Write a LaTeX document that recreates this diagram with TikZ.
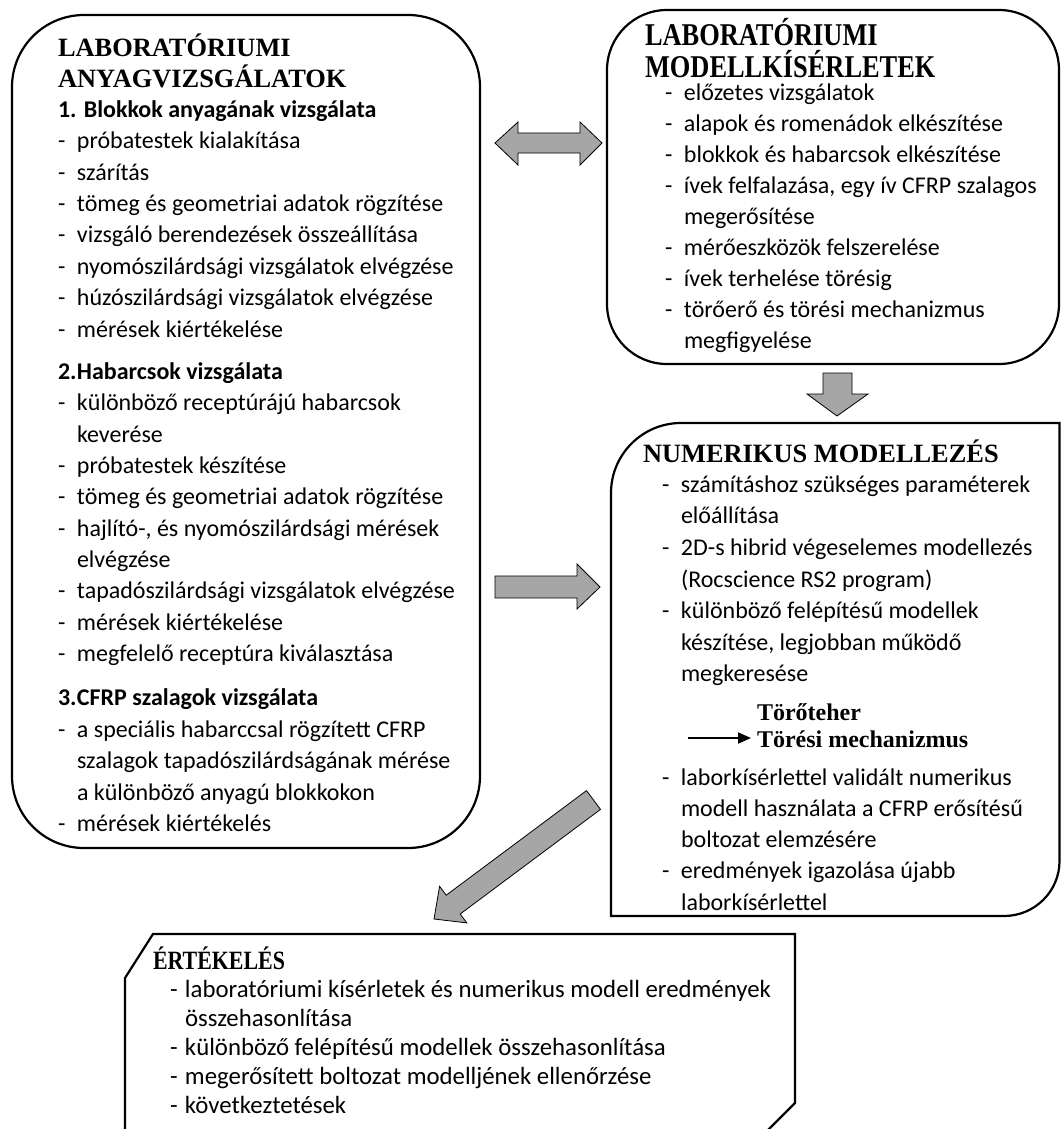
\documentclass[tikz,border=0pt]{standalone}
\usepackage{fontspec}
\usepackage{graphicx}
\setmainfont{Carlito}
\newfontfamily\hdfont{Liberation Serif}
\newfontfamily\hdcond{Liberation Serif}[FakeStretch=0.83]
\usetikzlibrary{arrows.meta}
\definecolor{arrowgray}{RGB}{166,166,166}
\newcommand\hd{\hdfont\bfseries\fontsize{26.4}{31}\selectfont}
\newcommand\bodyfont[1]{\fontsize{24}{#1}\selectfont}
\newcommand\myitem[1]{\makebox[19pt][l]{-}#1\par}
\newcommand\mycont[1]{\hspace*{19pt}#1\par}
\newcommand\eitem[1]{\makebox[15pt][l]{-}#1\par}
\newcommand\econt[1]{\hspace*{15pt}#1\par}
\newcommand\tallhd[1]{\scalebox{1}[1.2]{#1}}
\tikzset{
  boxline/.style={draw=black,line width=2.2pt},
  blockarrow/.style={draw=black,line width=0.8pt,fill=arrowgray,line join=miter},
  txt/.style={anchor=base west,inner sep=0pt,outer sep=0pt},
}
\begin{document}
\begin{tikzpicture}[x=1pt,y=-1pt]
\useasboundingbox (0,0) rectangle (1061,1129);
\fill[white] (0,0) rectangle (1061,1129);
\begin{scope}
\clip (0,0) rectangle (1061,1129);
% boxes
\draw[boxline,rounded corners=72pt] (12,15) rectangle (480,848);
\draw[boxline,rounded corners=60pt] (607,10) rectangle (1059,364);
\draw[boxline] (611,916) -- (611,493) .. controls (611,454.4) and (642.4,423) .. (681,423)
   -- (1059.5,423) -- (1059.5,861) .. controls (1059.5,891.4) and (1034.6,916) .. (1004,916) -- cycle;
\draw[boxline] (125,1135) -- (125,978) -- (153,934) -- (795,934) -- (795,1103) -- (763,1135);
\end{scope}

% block arrows
\draw[blockarrow] (495,143) -- (518,122) -- (518,133) -- (580,133) -- (580,122) -- (602,143)
   -- (580,165) -- (580,153) -- (518,153) -- (518,165) -- cycle;
\draw[blockarrow] (495,576) -- (577,576) -- (577,564) -- (600,587) -- (577,609) -- (577,598) -- (495,598) -- cycle;
\draw[blockarrow] (823,373) -- (852,373) -- (852,394) -- (868,394) -- (837,416) -- (807,394) -- (823,394) -- cycle;
\draw[blockarrow] (586.5,790.6) -- (600.5,809.4) -- (460.2,914.0) -- (466.8,922.9) -- (434,919)
   -- (439.6,886.3) -- (446.2,895.2) -- cycle;

% left box text
\node[txt] (labtext) at (58,57) {\begin{minipage}[t]{440pt}\parindent0pt\parskip0pt
{\hd LABORATÓRIUMI\par ANYAGVIZSGÁLATOK\par}
\bodyfont{31.4}
\vspace{-2pt}
{\bfseries 1. Blokkok anyagának vizsgálata\par}
\myitem{próbatestek kialakítása}
\myitem{szárítás}
\myitem{tömeg és geometriai adatok rögzítése}
\myitem{vizsgáló berendezések összeállítása}
\myitem{nyomószilárdsági vizsgálatok elvégzése}
\myitem{húzószilárdsági vizsgálatok elvégzése}
\myitem{mérések kiértékelése}
\vspace{10.6pt}
{\bfseries\makebox[19pt][l]{2.}Habarcsok vizsgálata\par}
\myitem{különböző receptúrájú habarcsok}
\mycont{keverése}
\myitem{próbatestek készítése}
\myitem{tömeg és geometriai adatok rögzítése}
\myitem{hajlító-, és nyomószilárdsági mérések}
\mycont{elvégzése}
\myitem{tapadószilárdsági vizsgálatok elvégzése}
\myitem{mérések kiértékelése}
\myitem{megfelelő receptúra kiválasztása}
\vspace{12.6pt}
{\bfseries\makebox[19pt][l]{3.}CFRP szalagok vizsgálata\par}
\myitem{a speciális habarccsal rögzített CFRP}
\mycont{szalagok tapadószilárdságának mérése}
\mycont{a különböző anyagú blokkokon}
\myitem{mérések kiértékelés}
\end{minipage}};

% right top box text
\node[txt] (modtext) at (645,46) {\begin{minipage}[t]{420pt}\parindent0pt\parskip0pt\lineskiplimit=-100pt
{\hdfont\bfseries\fontsize{26.4}{32}\selectfont \tallhd{LABORATÓRIUMI}\par \tallhd{MODELLKÍSÉRLETEK}\par}
\bodyfont{30.9}
\vspace{-7.9pt}
\leftskip=20pt
\myitem{előzetes vizsgálatok}
\myitem{alapok és romenádok elkészítése}
\myitem{blokkok és habarcsok elkészítése}
\myitem{ívek felfalazása, egy ív CFRP szalagos}
\mycont{megerősítése}
\myitem{mérőeszközök felszerelése}
\myitem{ívek terhelése törésig}
\myitem{törőerő és törési mechanizmus}
\mycont{megfigyelése}
\end{minipage}};

% numerical box text
\node[txt] (numtext) at (643,462) {\begin{minipage}[t]{420pt}\parindent0pt\parskip0pt
{\hd NUMERIKUS MODELLEZÉS\par}
\bodyfont{31.65}
\vspace{-1.6pt}
\leftskip=19pt
\myitem{számításhoz szükséges paraméterek}
\mycont{előállítása}
\myitem{2D-s hibrid végeselemes modellezés}
\mycont{(Rocscience RS2 program)}
\myitem{különböző felépítésű modellek}
\mycont{készítése, legjobban működő}
\mycont{megkeresése}
\end{minipage}};

\node[txt] (tor) at (757,720) {\begin{minipage}[t]{300pt}\parindent0pt\parskip0pt
{\hdfont\bfseries\fontsize{24}{27}\selectfont Törőteher\par Törési mechanizmus\par}
\end{minipage}};
\coordinate (arrstart) at (688,738);
\coordinate (arrend) at (751,738);
\draw[line width=2pt,-{Triangle[length=13pt,width=11pt]}] (arrstart) -- (arrend);

\node[txt] (numtext2) at (662,785) {\begin{minipage}[t]{420pt}\parindent0pt\parskip0pt
\bodyfont{31.25}
\myitem{laborkísérlettel validált numerikus}
\mycont{modell használata a CFRP erősítésű}
\mycont{boltozat elemzésére}
\myitem{eredmények igazolása újabb}
\mycont{laborkísérlettel}
\end{minipage}};

% evaluation box text
\node[txt] (evalhead) at (153,969) {\hdcond\bfseries\fontsize{26.4}{31}\selectfont ÉRTÉKELÉS};
\node[txt] (evaltext) at (170,997) {\begin{minipage}[t]{640pt}\parindent0pt\parskip0pt
\fontsize{24.8}{29}\selectfont
\eitem{laboratóriumi kísérletek és numerikus modell eredmények}
\econt{összehasonlítása}
\eitem{különböző felépítésű modellek összehasonlítása}
\eitem{megerősített boltozat modelljének ellenőrzése}
\eitem{következtetések}
\end{minipage}};
\end{tikzpicture}
\end{document}
